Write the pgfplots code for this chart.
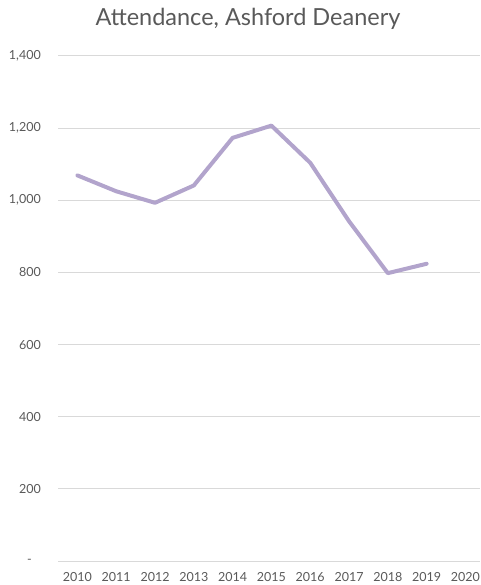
\documentclass[border=0pt]{standalone}
\usepackage{fontspec}
\setmainfont{Lato}
\usepackage{pgfplots}
\pgfplotsset{compat=1.18}
\definecolor{linecol}{RGB}{178,164,204}
\definecolor{gridcol}{RGB}{217,217,217}
\definecolor{txt}{RGB}{89,89,89}
\begin{document}
\begin{tikzpicture}[x=1pt,y=1pt]
\useasboundingbox (0,0) rectangle (480,585);
\node[txt, font=\fontsize{23.5}{26}\selectfont] at (248,566) {Attendance, Ashford Deanery};
\begin{axis}[
  at={(58pt,24pt)}, anchor=south west,
  scale only axis, width=422pt, height=505pt,
  xmin=-0.5, xmax=10.376, ymin=0, ymax=1400,
  axis line style={draw=none},
  ymajorgrids, grid style={gridcol, line width=1pt},
  major tick length=0pt,
  xtick={0,...,10},
  xticklabels={2010,2011,2012,2013,2014,2015,2016,2017,2018,2019,2020},
  ytick={0,200,...,1400},
  yticklabels={{-\kern9pt},200,400,600,800,{1,000},{1,200},{1,400}},
  /pgf/number format/assume math mode=true,
  ticklabel style={txt, font=\fontsize{12.5}{14}\selectfont},
  xticklabel style={anchor=base, yshift=-20.5pt},
  yticklabel style={anchor=east, inner sep=0pt, xshift=-17pt},
  clip=false,
]
\addplot[linecol, line width=4pt, line join=round, line cap=round, mark=none]
  coordinates {(0,1069)(1,1025)(2,993)(3,1041)(4,1173)(5,1207)(6,1104)(7,942)(8,798)(9,824)};
\end{axis}
\end{tikzpicture}
\end{document}
